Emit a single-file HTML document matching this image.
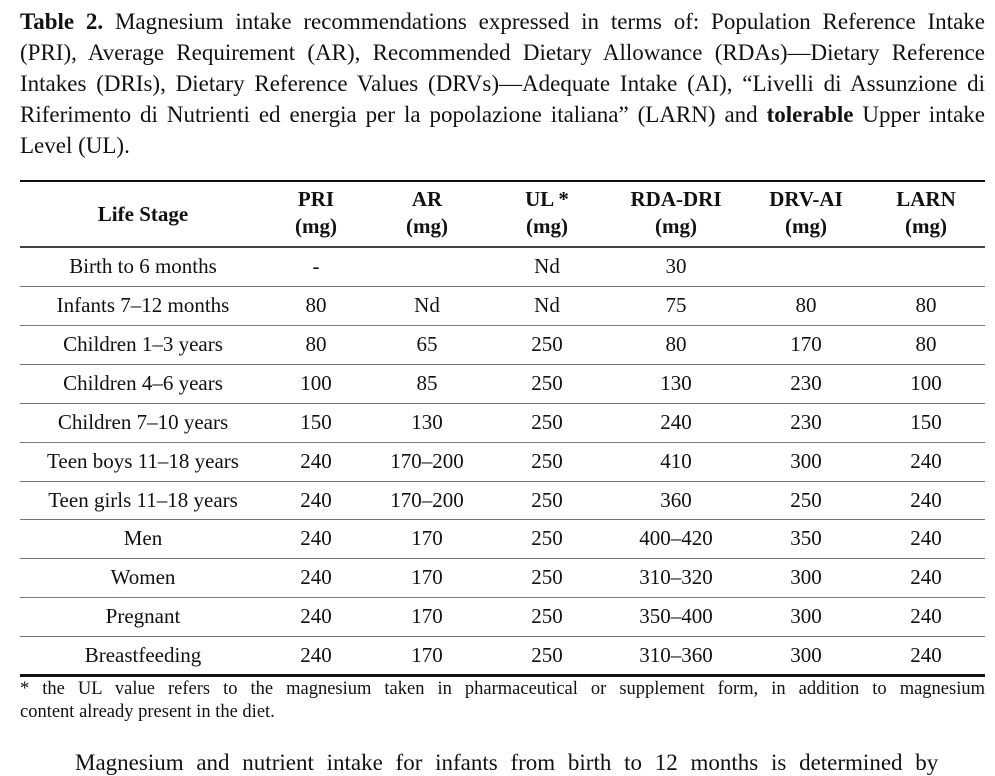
<!DOCTYPE html>
<html><head><meta charset="utf-8"><style>
body{margin:0;width:995px;height:757px;overflow:hidden;background:#fff;font-family:"Liberation Serif",serif;color:#111;position:relative}
.cap{position:absolute;left:20px;width:965px;font-size:23px;line-height:31px;text-align:justify;text-align-last:justify;white-space:nowrap}
.rule{position:absolute;left:20px;width:965px;background:#111}
.thin{position:absolute;left:20px;width:965px;height:1px;background:#777}
.c{position:absolute;font-size:21px;transform:translateX(-50%);white-space:nowrap;line-height:24px}
.h{position:absolute;font-size:21px;font-weight:bold;text-align:center;transform:translateX(-50%);line-height:27px;white-space:nowrap}
.fn{position:absolute;left:20px;width:965px;font-size:18.5px;line-height:23px;white-space:nowrap}
</style></head><body>
<div class="cap" style="top:6px"><b>Table 2.</b> Magnesium intake recommendations expressed in terms of: Population Reference Intake</div>
<div class="cap" style="top:37px">(PRI), Average Requirement (AR), Recommended Dietary Allowance (RDAs)—Dietary Reference</div>
<div class="cap" style="top:68px">Intakes (DRIs), Dietary Reference Values (DRVs)—Adequate Intake (AI), “Livelli di Assunzione di</div>
<div class="cap" style="top:99px">Riferimento di Nutrienti ed energia per la popolazione italiana” (LARN) and <b>tolerable</b> Upper intake</div>
<div class="cap" style="top:130px;text-align-last:left">Level (UL).</div>

<div class="rule" style="top:180px;height:2px"></div>
<div class="rule" style="top:246px;height:2px;background:#444"></div>
<div class="h" style="left:143px;top:201px">Life Stage</div>
<div class="h" style="left:316px;top:186px">PRI<br>(mg)</div>
<div class="h" style="left:427px;top:186px">AR<br>(mg)</div>
<div class="h" style="left:547px;top:186px">UL *<br>(mg)</div>
<div class="h" style="left:676px;top:186px">RDA-DRI<br>(mg)</div>
<div class="h" style="left:806px;top:186px">DRV-AI<br>(mg)</div>
<div class="h" style="left:926px;top:186px">LARN<br>(mg)</div>

<div class="thin" style="top:286px"></div>
<div class="thin" style="top:325px"></div>
<div class="thin" style="top:364px"></div>
<div class="thin" style="top:403px"></div>
<div class="thin" style="top:442px"></div>
<div class="thin" style="top:481px"></div>
<div class="thin" style="top:519px"></div>
<div class="thin" style="top:558px"></div>
<div class="thin" style="top:597px"></div>
<div class="thin" style="top:636px"></div>
<div class="rule" style="top:674px;height:3px"></div>

<div class="c" style="left:143px;top:254px">Birth to 6 months</div><div class="c" style="left:316px;top:254px">-</div><div class="c" style="left:547px;top:254px">Nd</div><div class="c" style="left:676px;top:254px">30</div>
<div class="c" style="left:143px;top:293px">Infants 7–12 months</div><div class="c" style="left:316px;top:293px">80</div><div class="c" style="left:427px;top:293px">Nd</div><div class="c" style="left:547px;top:293px">Nd</div><div class="c" style="left:676px;top:293px">75</div><div class="c" style="left:806px;top:293px">80</div><div class="c" style="left:926px;top:293px">80</div>
<div class="c" style="left:143px;top:332px">Children 1–3 years</div><div class="c" style="left:316px;top:332px">80</div><div class="c" style="left:427px;top:332px">65</div><div class="c" style="left:547px;top:332px">250</div><div class="c" style="left:676px;top:332px">80</div><div class="c" style="left:806px;top:332px">170</div><div class="c" style="left:926px;top:332px">80</div>
<div class="c" style="left:143px;top:371px">Children 4–6 years</div><div class="c" style="left:316px;top:371px">100</div><div class="c" style="left:427px;top:371px">85</div><div class="c" style="left:547px;top:371px">250</div><div class="c" style="left:676px;top:371px">130</div><div class="c" style="left:806px;top:371px">230</div><div class="c" style="left:926px;top:371px">100</div>
<div class="c" style="left:143px;top:410px">Children 7–10 years</div><div class="c" style="left:316px;top:410px">150</div><div class="c" style="left:427px;top:410px">130</div><div class="c" style="left:547px;top:410px">250</div><div class="c" style="left:676px;top:410px">240</div><div class="c" style="left:806px;top:410px">230</div><div class="c" style="left:926px;top:410px">150</div>
<div class="c" style="left:143px;top:449px">Teen boys 11–18 years</div><div class="c" style="left:316px;top:449px">240</div><div class="c" style="left:427px;top:449px">170–200</div><div class="c" style="left:547px;top:449px">250</div><div class="c" style="left:676px;top:449px">410</div><div class="c" style="left:806px;top:449px">300</div><div class="c" style="left:926px;top:449px">240</div>
<div class="c" style="left:143px;top:488px">Teen girls 11–18 years</div><div class="c" style="left:316px;top:488px">240</div><div class="c" style="left:427px;top:488px">170–200</div><div class="c" style="left:547px;top:488px">250</div><div class="c" style="left:676px;top:488px">360</div><div class="c" style="left:806px;top:488px">250</div><div class="c" style="left:926px;top:488px">240</div>
<div class="c" style="left:143px;top:526px">Men</div><div class="c" style="left:316px;top:526px">240</div><div class="c" style="left:427px;top:526px">170</div><div class="c" style="left:547px;top:526px">250</div><div class="c" style="left:676px;top:526px">400–420</div><div class="c" style="left:806px;top:526px">350</div><div class="c" style="left:926px;top:526px">240</div>
<div class="c" style="left:143px;top:565px">Women</div><div class="c" style="left:316px;top:565px">240</div><div class="c" style="left:427px;top:565px">170</div><div class="c" style="left:547px;top:565px">250</div><div class="c" style="left:676px;top:565px">310–320</div><div class="c" style="left:806px;top:565px">300</div><div class="c" style="left:926px;top:565px">240</div>
<div class="c" style="left:143px;top:604px">Pregnant</div><div class="c" style="left:316px;top:604px">240</div><div class="c" style="left:427px;top:604px">170</div><div class="c" style="left:547px;top:604px">250</div><div class="c" style="left:676px;top:604px">350–400</div><div class="c" style="left:806px;top:604px">300</div><div class="c" style="left:926px;top:604px">240</div>
<div class="c" style="left:143px;top:643px">Breastfeeding</div><div class="c" style="left:316px;top:643px">240</div><div class="c" style="left:427px;top:643px">170</div><div class="c" style="left:547px;top:643px">250</div><div class="c" style="left:676px;top:643px">310–360</div><div class="c" style="left:806px;top:643px">300</div><div class="c" style="left:926px;top:643px">240</div>

<div class="fn" style="top:678px;text-align:justify;text-align-last:justify">* the UL value refers to the magnesium taken in pharmaceutical or supplement form, in addition to magnesium</div>
<div class="fn" style="top:701px">content already present in the diet.</div>
<div style="position:absolute;left:75px;top:750px;font-size:23px;line-height:26px;white-space:nowrap;word-spacing:7px">Magnesium and nutrient intake for infants from birth to 12 months is determined by</div>
</body></html>
